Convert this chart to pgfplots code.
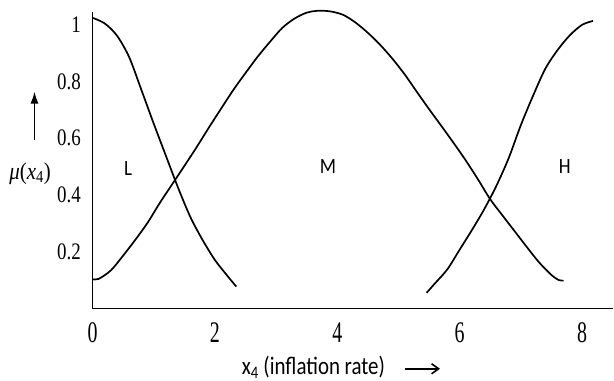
\documentclass[border=0pt]{standalone}
\usepackage{pgfplots}
\pgfplotsset{compat=1.18}
\usepackage{graphicx}
\usepackage{fontspec}
\setmainfont{Liberation Serif}
\newfontfamily\calibri{Carlito}
\usetikzlibrary{arrows.meta}

% membership functions of the inflation rate x4
\pgfplotstableread{
x      mu
0      1.025
0.2    1.005
0.4    0.962
0.6    0.886
0.8    0.770
1.0    0.652
1.2    0.538
1.4    0.425
1.6    0.322
1.8    0.241
2.0    0.171
2.2    0.116
2.35   0.077
}\lowset

\pgfplotstableread{
x      mu
0      0.103
0.1    0.104
0.3    0.134
0.5    0.186
0.7    0.242
0.9    0.302
1.1    0.372
1.3    0.437
1.5    0.502
1.7    0.568
1.9    0.637
2.1    0.704
2.3    0.770
2.5    0.830
2.7    0.888
2.9    0.940
3.1    0.989
3.3    1.022
3.5    1.043
3.7    1.050
3.9    1.047
4.1    1.035
4.3    1.008
4.5    0.972
4.7    0.930
4.9    0.881
5.1    0.826
5.3    0.764
5.5    0.703
5.7    0.644
5.9    0.584
6.1    0.522
6.3    0.455
6.5    0.385
6.7    0.328
6.9    0.272
7.1    0.216
7.3    0.162
7.5    0.118
7.62   0.100
7.70   0.098
}\medset

\pgfplotstableread{
x      mu
5.46   0.055
5.6    0.089
5.8    0.138
6.0    0.207
6.2    0.276
6.4    0.349
6.6    0.432
6.8    0.529
7.0    0.646
7.2    0.750
7.4    0.845
7.6    0.911
7.8    0.963
8.0    1.000
8.18   1.014
}\highset

\newcommand{\tl}[1]{\scalebox{1}[1.5]{#1}}
\newcommand{\ytl}[1]{\scalebox{1}[1.25]{#1}}

\begin{document}
\begin{tikzpicture}
\path[use as bounding box] (-92.5bp,-72.6bp) rectangle (521.5bp,308.4bp);
\begin{axis}[
  at={(0,0)}, anchor=south west,
  scale only axis,
  width=520.1bp, height=296bp,
  xmin=0, xmax=8.5, ymin=0, ymax=1.044,
  axis lines=left,
  axis line style={-, line width=1.8bp},
  clip=false,
  major tick length=0pt,
  xtick={0,2,4,6,8},
  xticklabels={\tl{0},\tl{2},\tl{4},\tl{6},\tl{8}},
  ytick={0.2,0.4,0.6,0.8,1},
  yticklabels={\ytl{0.2},\ytl{0.4},\ytl{0.6},\ytl{0.8},\ytl{1}},
  xticklabel style={anchor=center, inner sep=0pt, yshift=-24.6bp, font=\fontsize{20}{20}\selectfont},
  yticklabel style={anchor=east, inner sep=0pt, xshift=-11.5bp, font=\fontsize{19}{19}\selectfont},
]
\addplot[black, line width=1.7bp, smooth] table[x=x, y=mu] {\lowset};
\addplot[black, line width=1.7bp, smooth] table[x=x, y=mu] {\medset};
\addplot[black, line width=1.7bp, smooth] table[x=x, y=mu] {\highset};

\node[font=\calibri\fontsize{19}{19}\selectfont] at (axis cs:0.58,0.495) {\scalebox{1}[1.15]{L}};
\node[font=\calibri\fontsize{19}{19}\selectfont] at (axis cs:3.85,0.500) {\scalebox{1}[1.15]{M}};
\node[font=\calibri\fontsize{19}{19}\selectfont] at (axis cs:7.72,0.502) {\scalebox{1}[1.15]{H}};

% vertical axis caption with arrow
\node[font=\fontsize{21}{21}\selectfont] at (axis cs:-1.02,0.476)
  {\scalebox{1}[1.15]{\textit{μ}(\textit{x}\textsubscript{4})}};
\draw[line width=1.7bp, -{Latex[length=12bp,width=8bp]}] (axis cs:-0.948,0.594) -- (axis cs:-0.948,0.765);

% horizontal axis caption with arrow
\node[font=\calibri\fontsize{21}{21}\selectfont] at (axis cs:3.61,-0.207)
  {\scalebox{1}[1.2]{x\textsubscript{4} (inflation rate)}};
\draw[line width=1.6bp, -{Straight Barb[length=7bp,width=10bp]}] (axis cs:5.107,-0.213) -- (axis cs:5.679,-0.213);
\end{axis}
\end{tikzpicture}
\end{document}
